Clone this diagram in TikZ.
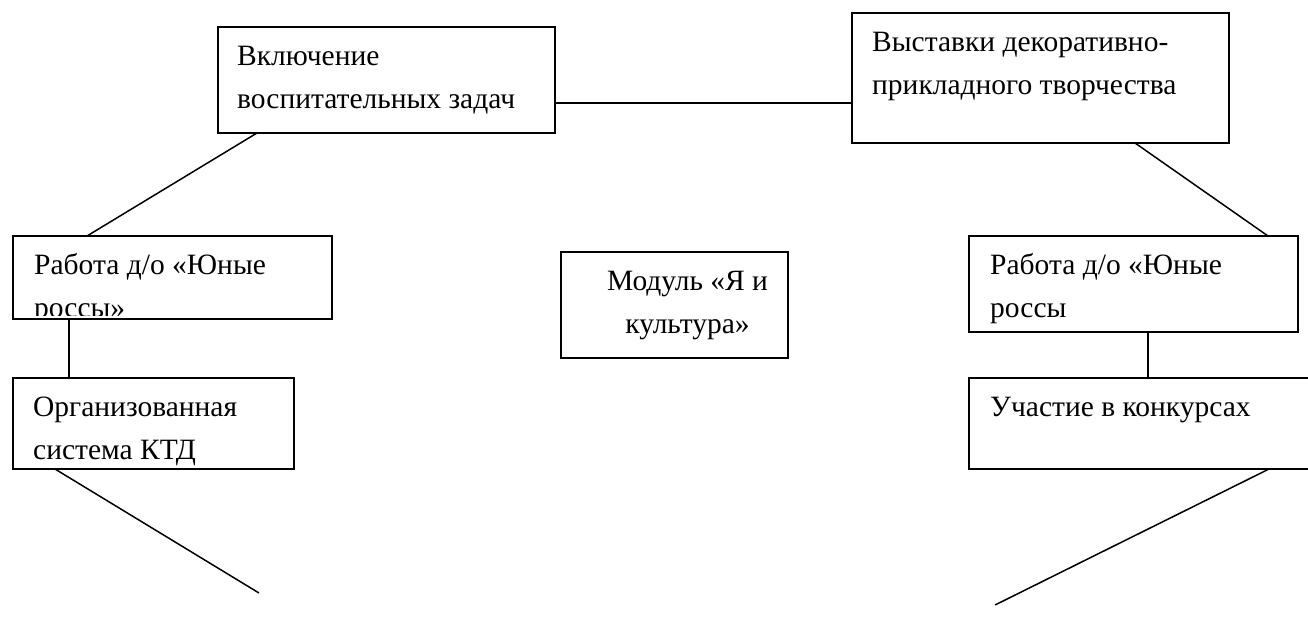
\documentclass[tikz,border=0pt]{standalone}
\usepackage{fontspec}
\setmainfont{Liberation Serif}
\usepackage{tikz}
\usetikzlibrary{positioning}

\begin{document}
\begin{tikzpicture}[x=1pt, y=-1pt,
    blok/.style={draw, line width=1.5pt, anchor=north west, inner sep=0pt, outer sep=0pt},
    tekst/.style={anchor=north west, inner sep=0pt, align=left, font=\fontsize{29.5}{43}\selectfont},
    svyaz/.style={line width=1.5pt}]
    % Fix the page size
    \useasboundingbox (0,0) rectangle (1308,618);

    % Draw the boxes
    \node[blok, minimum width=337pt, minimum height=106pt] (vkl) at (218,27) {};
    \node[blok, minimum width=377pt, minimum height=130pt] (vyst) at (852,13) {};
    \node[blok, minimum width=319pt, minimum height=83pt] (rabL) at (13,236) {};
    \node[blok, minimum width=227pt, minimum height=106pt] (modul) at (561,252) {};
    \node[blok, minimum width=329pt, minimum height=96pt] (rabR) at (969,236) {};
    \node[blok, minimum width=281pt, minimum height=91pt] (org) at (13,378) {};
    \node[blok, minimum width=361pt, minimum height=91pt] (uch) at (969,378) {};

    % Texts in the boxes
    \node[tekst] (vklT) at ([shift={(19pt,-8pt)}]vkl.north west) {\strut Включение\\воспитательных задач};
    \node[tekst] (vystT) at ([shift={(20pt,-8pt)}]vyst.north west) {\strut Выставки декоративно-\\прикладного творчества};
    \begin{scope}
        \clip (rabL.north west) rectangle ([yshift=4pt]rabL.south east);
        \node[tekst] (rabLT) at ([shift={(21pt,-8pt)}]rabL.north west) {\strut Работа д/о «Юные\\россы»};
    \end{scope}
    \node[tekst, anchor=north, align=center] (modulT) at ([shift={(13pt,-8pt)}]modul.north) {\strut Модуль «Я и\\культура»};
    \node[tekst] (rabRT) at ([shift={(21pt,-8pt)}]rabR.north west) {\strut Работа д/о «Юные\\россы};
    \node[tekst] (orgT) at ([shift={(20pt,-8pt)}]org.north west) {\strut Организованная\\система КТД};
    \node[tekst] (uchT) at ([shift={(21pt,-8pt)}]uch.north west) {\strut Участие в конкурсах};

    % Connectors
    \coordinate (v1) at ([yshift=-23pt]vkl.east);
    \draw[svyaz] (v1) -- (v1 -| vyst.west);
    \draw[svyaz] ([xshift=39pt]vkl.south west) -- ([xshift=74pt]rabL.north west);
    \draw[svyaz] ([xshift=283pt]vyst.south west) -- ([xshift=299pt]rabR.north west);
    \draw[svyaz] ([xshift=56pt]rabL.south west) -- ([xshift=56pt]org.north west);
    \draw[svyaz] ([xshift=179pt]rabR.south west) -- ([xshift=179pt]uch.north west);

    % Free ends at the bottom
    \coordinate (kL) at (259,593);
    \coordinate (kR) at (995,605);
    \draw[svyaz] ([xshift=42pt]org.south west) -- (kL);
    \draw[svyaz] ([xshift=300pt]uch.south west) -- (kR);
\end{tikzpicture}
\end{document}
